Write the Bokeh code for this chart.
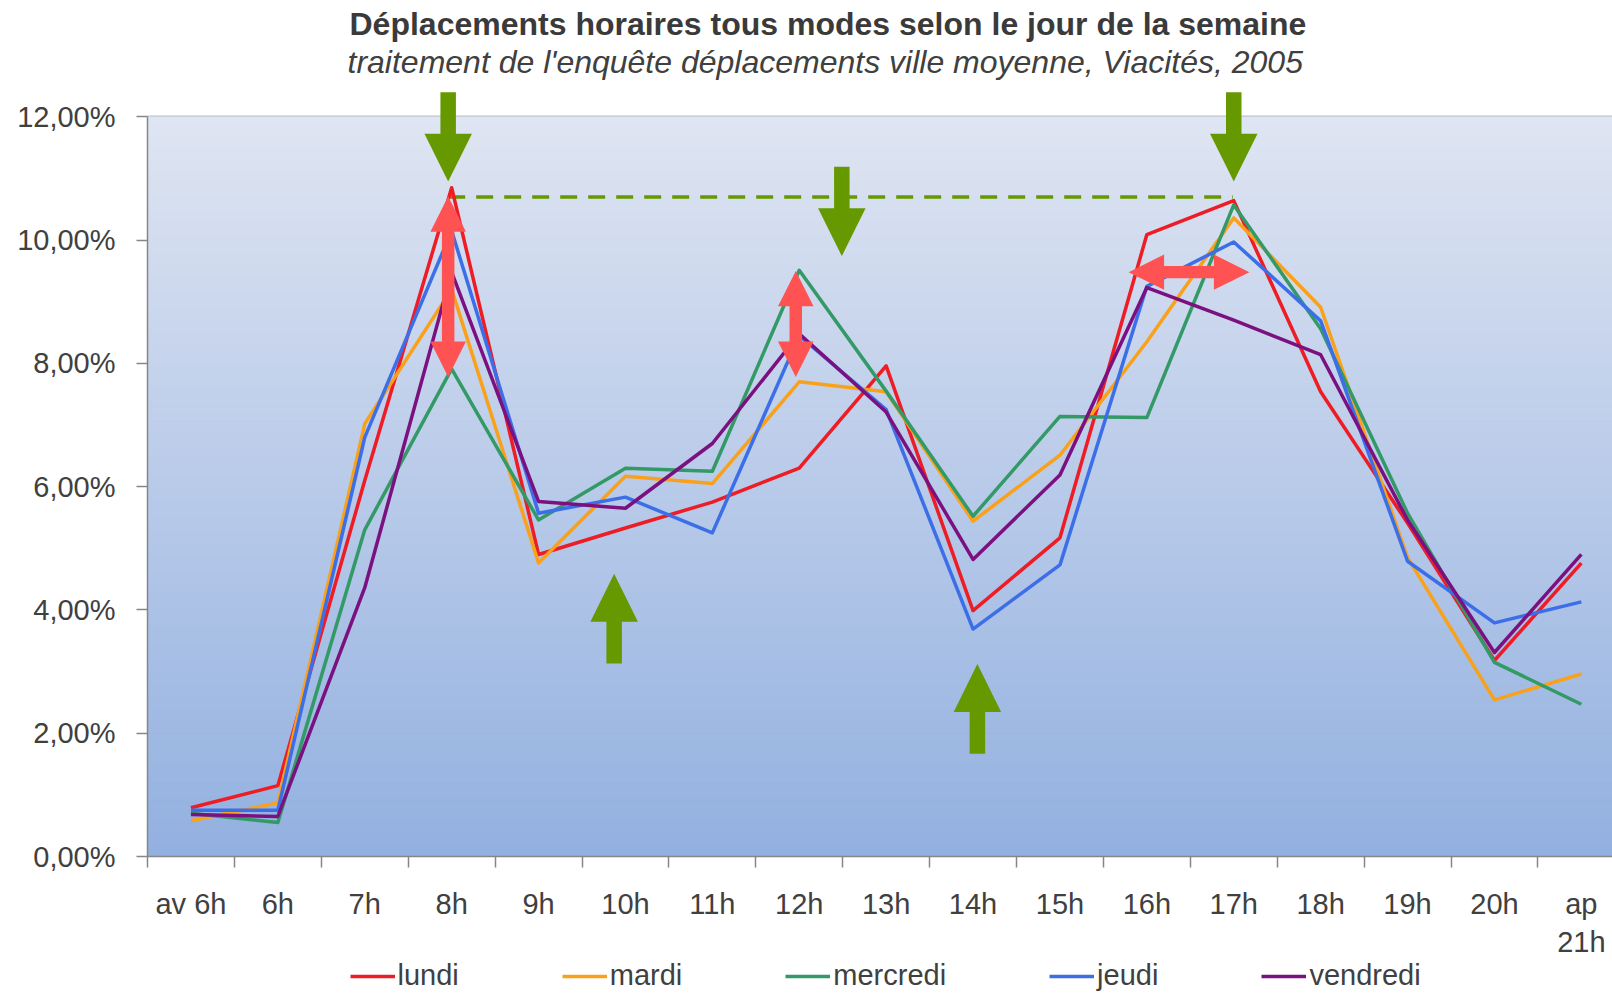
import math
from bokeh.plotting import figure
from bokeh.layouts import column
from bokeh.models import FixedTicker, Legend, LegendItem, Title, Range1d
from bokeh.embed import file_html
from bokeh.resources import INLINE

# ---------------- data ----------------
hours = ["av 6h", "6h", "7h", "8h", "9h", "10h", "11h", "12h", "13h", "14h",
         "15h", "16h", "17h", "18h", "19h", "20h", "ap\n21h"]

lundi    = [0.79, 1.15, 6.10, 10.85, 4.90, 5.33, 5.75, 6.30, 7.96, 3.99,
            5.17, 10.09, 10.64, 7.54, 5.41, 3.18, 4.76]
mardi    = [0.58, 0.87, 7.02, 9.20, 4.76, 6.17, 6.05, 7.70, 7.54, 5.44,
            6.51, 8.35, 10.36, 8.91, 4.85, 2.54, 2.96]
mercredi = [0.70, 0.55, 5.30, 7.91, 5.46, 6.30, 6.25, 9.51, 7.55, 5.52,
            7.14, 7.12, 10.57, 8.56, 5.57, 3.15, 2.47]
jeudi    = [0.75, 0.75, 6.80, 10.15, 5.57, 5.83, 5.25, 8.45, 7.25, 3.69,
            4.73, 9.25, 9.97, 8.69, 4.79, 3.79, 4.13]
vendredi = [0.68, 0.65, 4.36, 9.48, 5.76, 5.65, 6.70, 8.48, 7.21, 4.82,
            6.19, 9.23, 8.70, 8.14, 5.46, 3.31, 4.90]

series_names = ["lundi", "mardi", "mercredi", "jeudi", "vendredi"]
series_values = [lundi, mardi, mercredi, jeudi, vendredi]
series_colors = ["#ee1c25", "#f9a11b", "#339966", "#3c6ee8", "#7b1180"]

y_ticks = [0, 2, 4, 6, 8, 10, 12]

title_text = "Déplacements horaires tous modes selon le jour de la semaine"
subtitle_text = "traitement de l'enquête déplacements ville moyenne, Viacités, 2005"

# annotations (data coordinates: x in category slots, y in %)
green_arrows = [  # x_start, y_start, x_tip, y_tip
    (3.46, 12.40, 3.46, 10.95),
    (12.50, 12.40, 12.50, 10.95),
    (7.99, 11.19, 7.99, 9.74),
    (5.37, 3.13, 5.37, 4.585),
    (9.55, 1.668, 9.55, 3.121),
]
red_double_arrows = [  # tip1 x, y, tip2 x, y
    (3.46, 7.78, 3.46, 10.71),
    (7.46, 7.78, 7.46, 9.50),
    (11.29, 9.48, 12.68, 9.48),
]
dash_level = [(3.46, 12.49, 10.70)]  # x0, x1, y

# ---------------- layout ----------------
W = 1612
H_MAIN, H_LEG = 960, 32
LEFT, TOP = 147, 79
AXIS_PANEL = 102
FRAME_BOTTOM = H_MAIN - AXIS_PANEL
CAT_PX = 86.9
PX_PER_PCT = 61.8
x_end = (W - LEFT) / CAT_PX
y_end = (FRAME_BOTTOM - TOP) / PX_PER_PCT

GREEN = "#669900"
RED_ARROW = "#ff5252"
AX = "#868686"
TXT = "#404040"
FONT = "Liberation Sans"

p = figure(width=W, height=H_MAIN, x_range=Range1d(0, x_end), y_range=Range1d(0, y_end),
           output_backend="svg", toolbar_location=None, title=None,
           min_border_left=LEFT, min_border_right=0, min_border_top=TOP,
           min_border_bottom=AXIS_PANEL, background_fill_color="white",
           border_fill_color="white", outline_line_color=None)

# gradient plot background between 0 % and 12 %
n = 120
top_c = (0xdf, 0xe5, 0xf2)
bot_c = (0x92, 0xb0, 0xe0)
ys0, ys1, cols = [], [], []
for k in range(n):
    t = (k + 0.5) / n
    c = tuple(int(round(bot_c[j] + (top_c[j] - bot_c[j]) * t)) for j in range(3))
    ys0.append(12 * k / n)
    ys1.append(12 * (k + 1) / n)
    cols.append("#%02x%02x%02x" % c)
p.quad(left=0, right=len(hours), bottom=ys0, top=ys1, fill_color=cols,
       line_color=cols, line_width=1)

# axes
x_centers = [i + 0.5 for i in range(len(hours))]
xa = p.xaxis[0]
xa.ticker = FixedTicker(ticks=x_centers, minor_ticks=list(range(len(hours) + 1)))
xa.major_label_overrides = {xc: h for xc, h in zip(x_centers, hours)}
xa.major_tick_line_color = None
xa.major_tick_out = 0
xa.major_tick_in = 0
xa.minor_tick_out = 11
xa.minor_tick_in = 0
xa.minor_tick_line_color = AX
xa.minor_tick_line_width = 1.5
xa.axis_line_color = AX
xa.axis_line_width = 1.5
xa.major_label_standoff = 20
xa.major_label_text_font = FONT
xa.major_label_text_font_size = "29px"
xa.major_label_text_color = TXT

ya = p.yaxis[0]
ya.ticker = FixedTicker(ticks=y_ticks)
ya.major_label_overrides = {v: ("%.2f" % v).replace(".", ",") + "%" for v in y_ticks}
ya.bounds = (0, 12)
ya.major_tick_out = 11
ya.major_tick_in = 0
ya.major_tick_line_color = AX
ya.major_tick_line_width = 1.5
ya.minor_tick_line_color = None
ya.axis_line_color = AX
ya.axis_line_width = 1.5
ya.major_label_standoff = 21
ya.major_label_text_font = FONT
ya.major_label_text_font_size = "29px"
ya.major_label_text_color = TXT

p.xgrid.visible = False
p.ygrid.grid_line_color = "#7f7f7f"
p.ygrid.grid_line_width = 1.5

# dashed level line
for x0, x1, yv in dash_level:
    p.segment(x0=[x0], y0=[yv], x1=[x1], y1=[yv], line_color=GREEN,
              line_width=3.5, line_dash="17 11")

# series
for name, vals, col in zip(series_names, series_values, series_colors):
    p.line(x_centers, vals, line_color=col, line_width=3.5, line_join="round",
           name=name)


# arrow shapes (sizes in pixels, converted through the plot scales)
def arrow_poly(x0, y0, x1, y1, shaft_w, head_w, head_l, double=False):
    X0, Y0, X1, Y1 = x0 * CAT_PX, y0 * PX_PER_PCT, x1 * CAT_PX, y1 * PX_PER_PCT
    L = math.hypot(X1 - X0, Y1 - Y0)
    ux, uy = (X1 - X0) / L, (Y1 - Y0) / L
    nx, ny = -uy, ux

    def P(a, c):
        return ((X0 + ux * a + nx * c) / CAT_PX, (Y0 + uy * a + ny * c) / PX_PER_PCT)

    if double:
        pts = [P(0, 0), P(head_l, head_w / 2), P(head_l, shaft_w / 2),
               P(L - head_l, shaft_w / 2), P(L - head_l, head_w / 2), P(L, 0),
               P(L - head_l, -head_w / 2), P(L - head_l, -shaft_w / 2),
               P(head_l, -shaft_w / 2), P(head_l, -head_w / 2)]
    else:
        pts = [P(0, shaft_w / 2), P(L - head_l, shaft_w / 2), P(L - head_l, head_w / 2),
               P(L, 0), P(L - head_l, -head_w / 2), P(L - head_l, -shaft_w / 2),
               P(0, -shaft_w / 2)]
    return [q[0] for q in pts], [q[1] for q in pts]


gx, gy = [], []
for a in green_arrows:
    xs, ys = arrow_poly(*a, shaft_w=15.5, head_w=47.5, head_l=48)
    gx.append(xs)
    gy.append(ys)
p.patches(gx, gy, fill_color=GREEN, line_color=None)

rx, ry = [], []
for a in red_double_arrows:
    xs, ys = arrow_poly(*a, shaft_w=12.5, head_w=35.5, head_l=35.5, double=True)
    rx.append(xs)
    ry.append(ys)
p.patches(rx, ry, fill_color=RED_ARROW, line_color=None)

# titles
p.add_layout(Title(text=subtitle_text, text_font=FONT, text_font_style="italic",
                   text_font_size="32px", text_color=TXT, align="left",
                   offset=200, standoff=0), "above")
p.add_layout(Title(text=title_text, text_font=FONT, text_font_style="bold",
                   text_font_size="32px", text_color="#3a3a3a", align="left",
                   offset=202, standoff=0), "above")

# legend strip (own small figure under the chart; its series lie outside its view)
pl = figure(width=W, height=H_LEG, x_range=Range1d(-100, -99), y_range=Range1d(0, 1),
            x_axis_type=None, y_axis_type=None, output_backend="svg",
            toolbar_location=None, min_border=0, outline_line_color=None,
            background_fill_color="white", border_fill_color="white")
items = []
for name, vals, col in zip(series_names, series_values, series_colors):
    r = pl.line(x_centers, vals, line_color=col, line_width=3.5)
    items.append(LegendItem(label=name, renderers=[r]))
legend = Legend(items=items, orientation="horizontal", location=(349.5 - LEFT, 0),
                glyph_width=45, glyph_height=20, label_standoff=3, spacing=103,
                padding=0, margin=0, border_line_color=None,
                background_fill_alpha=0, label_text_font=FONT,
                label_text_font_size="29px", label_text_color=TXT)
pl.add_layout(legend, "center")

open("out.html", "w").write(file_html(column(p, pl, spacing=0), INLINE))
